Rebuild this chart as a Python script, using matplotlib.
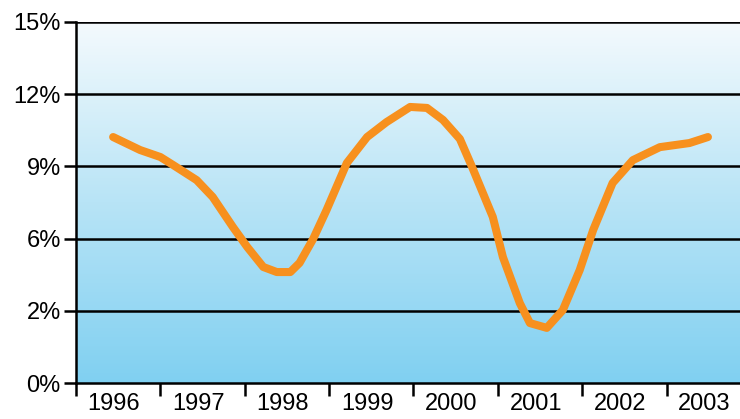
import numpy as np
import matplotlib
matplotlib.use("Agg")
import matplotlib.pyplot as plt
from matplotlib.colors import LinearSegmentedColormap

# ── data (x in fractional years) ──
years = [1996, 1997, 1998, 1999, 2000, 2001, 2002, 2003]
x = [1996.44, 1996.76, 1997.00, 1997.15, 1997.43, 1997.62, 1997.86, 1998.03,
     1998.22, 1998.38, 1998.54, 1998.65, 1998.81, 1998.97, 1999.21, 1999.45,
     1999.68, 1999.96, 2000.16, 2000.35, 2000.55, 2000.70, 2000.94, 2001.06,
     2001.26, 2001.38, 2001.58, 2001.77, 2001.97, 2002.13, 2002.36, 2002.60,
     2002.92, 2003.27, 2003.49]
rate = [10.22, 9.68, 9.39, 9.06, 8.43, 7.73, 6.48, 5.65,
        4.82, 4.61, 4.61, 4.99, 5.98, 7.19, 9.14, 10.22,
        10.84, 11.47, 11.43, 10.93, 10.14, 8.93, 6.90, 5.23,
        3.32, 2.49, 2.29, 3.03, 4.69, 6.36, 8.31, 9.26,
        9.80, 9.97, 10.22]
ytick_vals = [0, 3, 6, 9, 12, 15]
ytick_labels = ["0%", "2%", "6%", "9%", "12%", "15%"]

plt.rcParams["font.family"] = ["Liberation Sans Narrow", "Liberation Sans", "DejaVu Sans"]

fig = plt.figure(figsize=(7.4, 4.19), dpi=100)
ax = fig.add_axes([76/740, 1 - 383/419, 1 - 76/740, (383 - 22)/419])

x0, x1 = 1996.0, 2003.87
y0, y1 = 0, 15

# vertical gradient background
grad = LinearSegmentedColormap.from_list("sky", ["#80d0f1", "#b8e4f6", "#f4fafd"])
ax.imshow(np.linspace(0, 1, 256).reshape(-1, 1), cmap=grad, origin="lower",
          extent=[x0, x1, y0, y1], aspect="auto", zorder=0)

for v in ytick_vals[1:]:
    ax.axhline(v, color="black", lw=1.8, zorder=1)

ax.plot(x, rate, color="#f7901e", lw=5.8, solid_capstyle="round",
        solid_joinstyle="round", zorder=3)

ax.set_xlim(x0, x1)
ax.set_ylim(y0, y1)

for s in ["top", "right"]:
    ax.spines[s].set_visible(False)
for s in ["left", "bottom"]:
    ax.spines[s].set_linewidth(1.8)
    ax.spines[s].set_zorder(4)

ax.set_yticks(ytick_vals)
ax.set_yticklabels(ytick_labels, fontsize=17)
ax.tick_params(axis="y", length=9, width=1.8, pad=2)

# boundary ticks, labels centred in each year
ax.set_xticks(years)
ax.set_xticklabels([])
ax.tick_params(axis="x", which="major", length=9, width=1.8, direction="out")
ax.set_xticks([y + 0.45 for y in years], minor=True)
ax.set_xticklabels([str(y) for y in years], minor=True, fontsize=17)
ax.tick_params(axis="x", which="minor", length=0, pad=7)

fig.savefig("out.png", dpi=100)
